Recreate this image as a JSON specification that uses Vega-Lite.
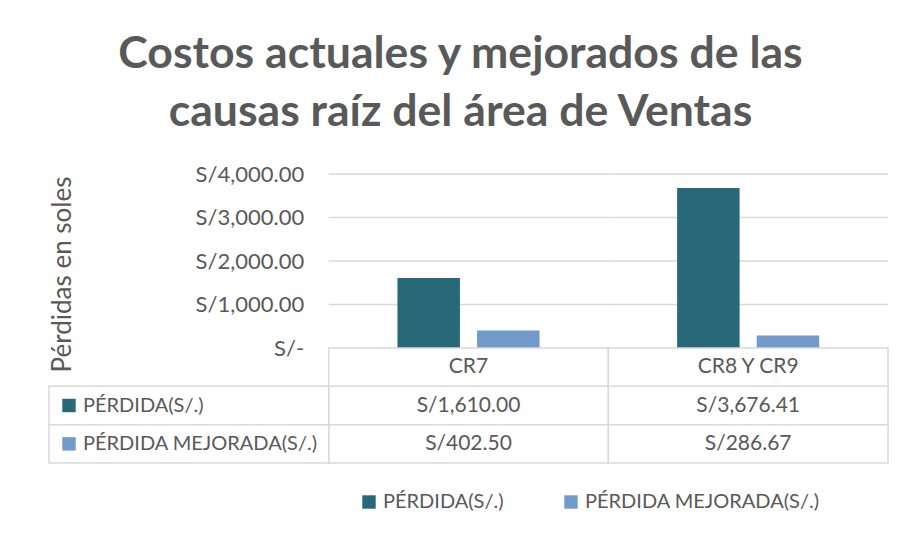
{
  "$schema": "https://vega.github.io/schema/vega-lite/v6.json",
  "padding": {"left": 48, "top": 32, "right": 18, "bottom": 10},
  "background": "white",
  "config": {
    "locale": {"number": {"decimal": ".", "thousands": ",", "grouping": [3], "currency": ["S/", ""]}},
    "font": "Lato",
    "view": {"stroke": null}
  },
  "title": {
    "text": ["Costos actuales y mejorados de las", "causas raíz del área de Ventas"],
    "font": "Lato",
    "fontSize": 44.6,
    "fontWeight": "bold",
    "color": "#595959",
    "lineHeight": 58,
    "anchor": "middle",
    "dx": -8,
    "offset": 27
  },
  "datasets": {
    "perdidas": [
      {"categoria": "CR7", "serie": "PÉRDIDA(S/.)", "valor": 1610.00},
      {"categoria": "CR7", "serie": "PÉRDIDA MEJORADA(S/.)", "valor": 402.50},
      {"categoria": "CR8 Y CR9", "serie": "PÉRDIDA(S/.)", "valor": 3676.41},
      {"categoria": "CR8 Y CR9", "serie": "PÉRDIDA MEJORADA(S/.)", "valor": 286.67}
    ],
    "grid": [
      {"categoria": "CR7", "nivel": 1000},
      {"categoria": "CR7", "nivel": 2000},
      {"categoria": "CR7", "nivel": 3000},
      {"categoria": "CR7", "nivel": 4000},
      {"categoria": "CR8 Y CR9", "nivel": 1000},
      {"categoria": "CR8 Y CR9", "nivel": 2000},
      {"categoria": "CR8 Y CR9", "nivel": 3000},
      {"categoria": "CR8 Y CR9", "nivel": 4000}
    ]
  },
  "spacing": 0,
  "bounds": "flush",
  "resolve": {"scale": {"color": "shared"}},
  "vconcat": [
    {
      "width": 839,
      "height": 174,
      "encoding": {
        "x": {"field": "categoria", "type": "nominal", "scale": {"domain": ["Serie", "CR7", "CR8 Y CR9"], "paddingInner": 0, "paddingOuter": 0}, "axis": null}
      },
      "layer": [
        {
          "data": {"name": "grid"},
          "mark": {"type": "bar", "fill": "transparent", "stroke": "#d9d9d9", "strokeWidth": 1.5},
          "encoding": {
            "y": {
              "field": "nivel", "type": "quantitative",
              "scale": {"domain": [0, 4000], "nice": false},
              "axis": {
                "values": [0, 1000, 2000, 3000, 4000],
                "offset": -279.67,
                "domain": false, "ticks": false, "grid": false,
                "labelPadding": 25,
                "labelFont": "Lato", "labelFontSize": 22, "labelColor": "#595959",
                "labelExpr": "datum.value === 0 ? 'S/-\u2002' : format(datum.value, '$,.2f')",
                "title": "Pérdidas en soles",
                "titleFont": "Lato", "titleFontSize": 26, "titleFontWeight": "normal", "titleColor": "#595959",
                "titleX": -266, "titleY": 100, "titleBaseline": "middle", "titleAngle": -90
              }
            },
            "y2": {"field": "nivel"}
          }
        },
        {
          "data": {"name": "perdidas"},
          "mark": {"type": "bar"},
          "encoding": {
            "xOffset": {"field": "serie", "type": "nominal", "scale": {"domain": ["PÉRDIDA(S/.)", "PÉRDIDA MEJORADA(S/.)"], "paddingInner": 0.215, "paddingOuter": 0.864}},
            "y": {
              "field": "valor", "type": "quantitative",
              "scale": {"domain": [0, 4000], "nice": false},
              "axis": {
                "values": [0, 1000, 2000, 3000, 4000],
                "offset": -279.67,
                "domain": false, "ticks": false, "grid": false,
                "labelPadding": 25,
                "labelFont": "Lato", "labelFontSize": 22, "labelColor": "#595959",
                "labelExpr": "datum.value === 0 ? 'S/-\u2002' : format(datum.value, '$,.2f')",
                "title": "Pérdidas en soles",
                "titleFont": "Lato", "titleFontSize": 26, "titleFontWeight": "normal", "titleColor": "#595959",
                "titleX": -266, "titleY": 100, "titleBaseline": "middle", "titleAngle": -90
              }
            },
            "color": {
              "field": "serie", "type": "nominal",
              "scale": {"domain": ["PÉRDIDA(S/.)", "PÉRDIDA MEJORADA(S/.)"], "range": ["#276979", "#729BCC"]},
              "legend": {
                "orient": "none", "legendX": 310, "legendY": 318,
                "direction": "horizontal", "title": null,
                "symbolType": "square", "symbolSize": 180, "symbolStrokeWidth": 0, "symbolOpacity": 1,
                "labelFont": "Lato", "labelFontSize": 20, "labelColor": "#595959",
                "columnPadding": 57, "labelLimit": 400
              }
            }
          }
        }
      ]
    },
    {
      "width": 839,
      "height": 115,
      "data": {"name": "perdidas"},
      "encoding": {
        "x": {"field": "categoria", "type": "nominal", "scale": {"domain": ["Serie", "CR7", "CR8 Y CR9"], "paddingInner": 0, "paddingOuter": 0}, "axis": null},
        "y": {"field": "serie", "type": "nominal", "scale": {"domain": ["Categoría", "PÉRDIDA(S/.)", "PÉRDIDA MEJORADA(S/.)"], "paddingInner": 0, "paddingOuter": 0}, "axis": null}
      },
      "layer": [
        {"mark": {"type": "rect", "fill": "white", "stroke": "#d9d9d9", "strokeWidth": 1.5}},
        {
          "mark": {"type": "text", "font": "Lato", "fontSize": 21, "color": "#595959"},
          "encoding": {"text": {"field": "valor", "type": "quantitative", "format": "$,.2f"}}
        },
        {
          "transform": [{"filter": "datum.serie === 'PÉRDIDA(S/.)'"}],
          "mark": {"type": "rect", "fill": "white", "stroke": "#d9d9d9", "strokeWidth": 1.5},
          "encoding": {"y": {"datum": "Categoría", "type": "nominal"}}
        },
        {
          "transform": [{"filter": "datum.serie === 'PÉRDIDA(S/.)'"}],
          "mark": {"type": "text", "font": "Lato", "fontSize": 21, "color": "#595959"},
          "encoding": {"y": {"datum": "Categoría", "type": "nominal"}, "text": {"field": "categoria", "type": "nominal"}}
        },
        {
          "transform": [{"filter": "datum.categoria === 'CR7'"}],
          "mark": {"type": "rect", "fill": "white", "stroke": "#d9d9d9", "strokeWidth": 1.5},
          "encoding": {"x": {"datum": "Serie", "type": "nominal"}}
        },
        {
          "transform": [{"filter": "datum.categoria === 'CR7'"}],
          "mark": {"type": "square", "size": 180, "opacity": 1, "xOffset": 20},
          "encoding": {
            "x": {"datum": "Serie", "type": "nominal", "bandPosition": 0},
            "color": {"field": "serie", "type": "nominal", "legend": null}
          }
        },
        {
          "transform": [{"filter": "datum.categoria === 'CR7'"}],
          "mark": {"type": "text", "font": "Lato", "fontSize": 20, "color": "#595959", "align": "left", "dx": 34},
          "encoding": {
            "x": {"datum": "Serie", "type": "nominal", "bandPosition": 0},
            "text": {"field": "serie", "type": "nominal"}
          }
        }
      ]
    }
  ]
}
